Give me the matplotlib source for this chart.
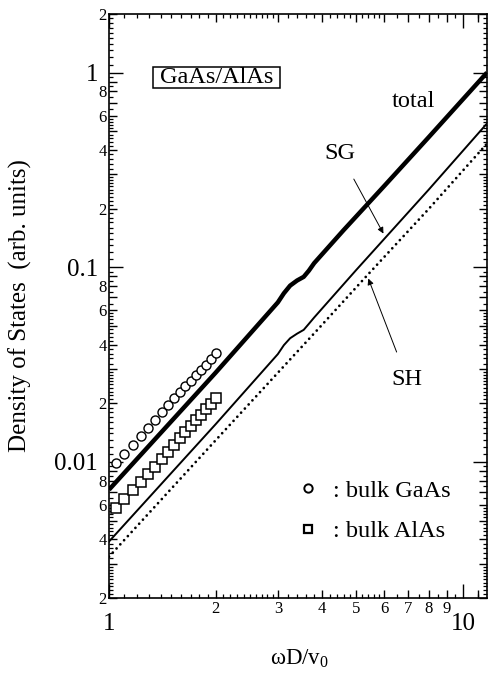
import numpy as np
import matplotlib
matplotlib.use("Agg")
import matplotlib.pyplot as plt
from matplotlib.lines import Line2D
from matplotlib.patches import Rectangle
from matplotlib.ticker import FixedLocator, FixedFormatter

plt.rcParams['font.family'] = ['Liberation Serif', 'DejaVu Serif']
plt.rcParams['mathtext.fontset'] = 'custom'
plt.rcParams['mathtext.rm'] = 'Liberation Serif'
plt.rcParams['mathtext.it'] = 'Liberation Serif'

# ---- data ----
bulk_x = [1.047, 1.105, 1.169, 1.229, 1.286, 1.346, 1.408, 1.468, 1.527,
          1.588, 1.643, 1.702, 1.762, 1.820, 1.879, 1.941, 2.0]
gaas_y = [0.0099, 0.0110, 0.0122, 0.0136, 0.0149, 0.0164, 0.0180, 0.0196, 0.0212,
          0.0229, 0.0246, 0.0261, 0.0279, 0.0297, 0.0316, 0.0336, 0.0362]
alas_y = [0.00578, 0.00643, 0.00714, 0.00785, 0.00863, 0.00942, 0.0103, 0.0112, 0.0122,
          0.0132, 0.0143, 0.0153, 0.0164, 0.0174, 0.0186, 0.0198, 0.0212]

total_x = [1.0, 2.0, 3.0, 3.12, 3.25, 3.4, 3.55, 3.67, 3.8, 4.6, 6.0, 8.0, 11.7]
total_y = [0.0072, 0.0287, 0.066, 0.0735, 0.0805, 0.0855, 0.0893, 0.096, 0.105, 0.155, 0.262, 0.465, 1.0]

sg_x = [1.0, 2.0, 3.0, 3.12, 3.25, 3.4, 3.55, 3.67, 3.8, 5.0, 8.0, 11.7]
sg_y = [0.0039, 0.0156, 0.0358, 0.0398, 0.0432, 0.0456, 0.0477, 0.0512, 0.0552, 0.097, 0.25, 0.548]

sh_x = [1.0, 2.0, 3.95, 5.3, 8.0, 11.7]
sh_y = [0.00326, 0.0129, 0.0494, 0.0887, 0.199, 0.432]

xmajor = [1, 10]
xmajor_labels = ['1', '10']
xminor = [2, 3, 4, 5, 6, 7, 8, 9, 11]
xminor_labels = ['2', '3', '4', '5', '6', '7', '8', '9', '']
ymajor = [0.01, 0.1, 1]
ymajor_labels = ['0.01', '0.1', '1']
yminor = [0.002, 0.003, 0.004, 0.005, 0.006, 0.007, 0.008, 0.009,
          0.02, 0.03, 0.04, 0.05, 0.06, 0.07, 0.08, 0.09,
          0.2, 0.3, 0.4, 0.5, 0.6, 0.7, 0.8, 0.9, 2]
yminor_labels = ['2', '', '4', '', '6', '', '8', '',
                 '2', '', '4', '', '6', '', '8', '',
                 '2', '', '4', '', '6', '', '8', '', '2']

# fine ticks (mantissas within each decade)
fine_mant = [1.1, 1.2, 1.3, 1.4, 1.5, 1.6, 1.7, 1.8, 1.9,
             2.1, 2.2, 2.3, 2.4, 2.5, 2.6, 2.7, 2.8, 2.9,
             3.2, 3.4, 3.6, 3.8, 4.2, 4.4, 4.6, 4.8, 5.2, 5.4, 5.6, 5.8,
             6.5, 7.5, 8.5, 9.5]

XMIN, XMAX = 1.0, 11.7
YMIN, YMAX = 0.002, 2.0

fig = plt.figure(figsize=(4.88, 6.75), dpi=100)
ax = fig.add_axes([109/488, 1 - 598/675, 378/488, 584/675])
ax.set_xscale('log')
ax.set_yscale('log')
ax.set_xlim(XMIN, XMAX)
ax.set_ylim(YMIN, YMAX)

ax.plot(total_x, total_y, color='black', lw=3.2, solid_joinstyle='round', solid_capstyle='butt')
ax.plot(sg_x, sg_y, color='black', lw=1.4, solid_joinstyle='round')
ax.plot(sh_x, sh_y, color='black', lw=2.0, linestyle=(0, (0.01, 2.0)), dash_capstyle='round')
ax.plot(bulk_x, gaas_y, linestyle='none', marker='o', ms=6.5, mfc='white', mec='black', mew=1.0)
ax.plot(bulk_x, alas_y, linestyle='none', marker='s', ms=6.8, mfc='white', mec='black', mew=1.1)

# ticks
ax.xaxis.set_major_locator(FixedLocator(xmajor))
ax.xaxis.set_major_formatter(FixedFormatter(xmajor_labels))
ax.xaxis.set_minor_locator(FixedLocator(xminor))
ax.xaxis.set_minor_formatter(FixedFormatter(xminor_labels))
ax.yaxis.set_major_locator(FixedLocator(ymajor))
ax.yaxis.set_major_formatter(FixedFormatter(ymajor_labels))
ax.yaxis.set_minor_locator(FixedLocator(yminor))
ax.yaxis.set_minor_formatter(FixedFormatter(yminor_labels))

ax.tick_params(which='both', direction='in', top=True, right=True, width=1.0)
ax.tick_params(axis='x', which='major', length=10, labelsize=18, pad=11)
ax.tick_params(axis='x', which='minor', length=5.5, labelsize=12, pad=2)
ax.tick_params(axis='y', which='major', length=10, labelsize=18, pad=8)
ax.tick_params(axis='y', which='minor', length=5.5, labelsize=12, pad=1.5)
for s in ax.spines.values():
    s.set_linewidth(1.2)

xfine = [m * d for d in (1, 10) for m in fine_mant if XMIN < m * d < XMAX]
yfine = [m * d for d in (0.001, 0.01, 0.1, 1) for m in fine_mant if YMIN < m * d < YMAX]
for loc in ('bottom', 'top'):
    sx = ax.secondary_xaxis(loc)
    sx.set_xticks(xfine)
    sx.set_xticks([], minor=True)
    sx.tick_params(direction='in', length=3, width=0.9, labelbottom=False, labeltop=False)
    sx.spines[loc].set_visible(False)
for loc in ('left', 'right'):
    sy = ax.secondary_yaxis(loc)
    sy.set_yticks(yfine)
    sy.set_yticks([], minor=True)
    sy.tick_params(direction='in', length=3, width=0.9, labelleft=False, labelright=False)
    sy.spines[loc].set_visible(False)

ax.set_xlabel('ωD/v$_0$', fontsize=16.5)
ax.xaxis.set_label_coords(0.505, -0.085)
ax.set_ylabel('Density of States  (arb. units)', fontsize=18)
ax.yaxis.set_label_coords(-0.205, 0.5)

# annotations
ax.add_patch(Rectangle((0.116, 0.873), 0.336, 0.037, transform=ax.transAxes,
                       fc='white', ec='black', lw=1.1, zorder=3))
ax.text(0.284, 0.8905, 'GaAs/AlAs', transform=ax.transAxes, fontsize=17.5,
        ha='center', va='center', zorder=4)
ax.text(0.805, 0.850, 'total', transform=ax.transAxes, fontsize=17.5, ha='center', va='center')
ax.annotate('SG', xy=(0.726, 0.624), xytext=(0.611, 0.761),
            xycoords='axes fraction', textcoords='axes fraction',
            fontsize=17.5, ha='center', va='center',
            arrowprops=dict(arrowstyle='-|>', lw=0.7, color='black', mutation_scale=9,
                            shrinkA=10, shrinkB=0))
ax.annotate('SH', xy=(0.686, 0.547), xytext=(0.789, 0.374),
            xycoords='axes fraction', textcoords='axes fraction',
            fontsize=17.5, ha='center', va='center',
            arrowprops=dict(arrowstyle='-|>', lw=0.7, color='black', mutation_scale=9,
                            shrinkA=11, shrinkB=0))

handles = [Line2D([], [], linestyle='none', marker='o', ms=6.0, mfc='white', mec='black', mew=1.4),
           Line2D([], [], linestyle='none', marker='s', ms=5.5, mfc='white', mec='black', mew=1.6)]
ax.legend(handles, [': bulk GaAs', ': bulk AlAs'], loc='center left',
          bbox_to_anchor=(0.50, 0.149), frameon=False, fontsize=17.5,
          handlelength=0.8, handletextpad=0.65, labelspacing=0.75,
          borderpad=0, borderaxespad=0)

fig.savefig('out.png', dpi=100)
